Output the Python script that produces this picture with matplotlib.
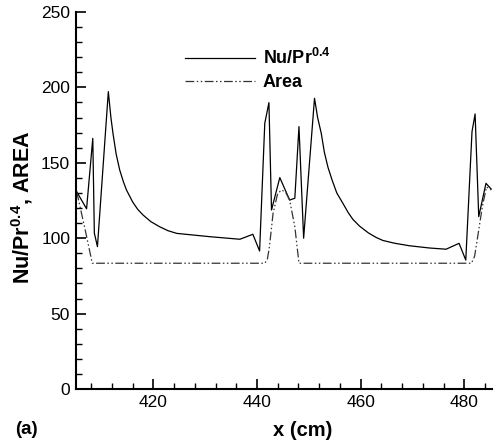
import matplotlib
matplotlib.use("Agg")
import matplotlib.pyplot as plt
from matplotlib.ticker import MultipleLocator

plt.rcParams['font.family'] = ['Liberation Sans', 'DejaVu Sans']
plt.rcParams['mathtext.fontset'] = 'custom'
plt.rcParams['mathtext.rm'] = 'Liberation Sans:bold'
plt.rcParams['mathtext.bf'] = 'Liberation Sans:bold'

# Nu/Pr^0.4 along the channel
x_nu = [405.2, 407.1, 408.3, 408.6, 409.2, 411.3, 411.8, 412.2, 412.8, 413.5,
        414.2, 414.8, 416.0, 417.0, 418.0, 419.5, 421.2, 422.8, 424.5, 427.7,
        430.9, 436.7, 439.2, 440.5, 441.5, 442.3, 442.8, 444.4, 446.3, 447.3,
        448.1, 449.0, 451.1, 451.7, 452.4, 453.0, 453.7, 454.5, 455.4, 456.6,
        457.6, 458.5, 459.8, 461.5, 463.0, 464.3, 466.5, 469.4, 473.3, 476.5,
        479.0, 480.3, 481.5, 482.1, 482.8, 484.2, 485.2]
y_nu = [130.8, 119.5, 166.2, 103.4, 94.4, 197.2, 180.0, 169.5, 156.0, 145.2,
        137.5, 132.0, 124.0, 119.0, 115.4, 111.0, 107.6, 105.0, 103.2, 102.1,
        101.0, 99.3, 102.6, 91.5, 176.2, 189.9, 118.7, 140.2, 125.3, 126.5,
        174.0, 100.0, 192.8, 180.0, 169.6, 157.0, 147.0, 138.5, 130.0, 123.0,
        117.0, 112.5, 108.0, 103.5, 100.5, 98.5, 96.7, 95.0, 93.5, 92.7,
        96.6, 85.5, 170.6, 182.4, 114.3, 136.4, 132.6]

# duct area
x_area = [405.2, 406.8, 408.2, 441.5, 442.0, 442.4, 443.1, 444.0, 444.8,
          445.6, 446.3, 447.3, 448.1, 481.4, 482.0, 482.6, 483.5, 484.3, 485.2]
y_area = [130.8, 106.0, 83.4, 83.4, 86.0, 94.4, 116.5, 129.8, 132.0,
          130.0, 125.3, 107.6, 83.4, 83.4, 88.0, 101.0, 121.0, 134.0, 132.0]

fig = plt.figure(figsize=(4.96, 4.46), dpi=100)
ax = fig.add_axes([0.1526, 0.1278, 0.8387, 0.8453])

ax.plot(x_nu, y_nu, color='black', lw=0.9, label=r'Nu/Pr$^{0.4}$')
ax.plot(x_area, y_area, color='#333333', lw=0.9,
        linestyle=(0, (7, 2, 1.2, 2, 1.2, 2)), label='Area')

ax.set_xlim(405, 485.3)
ax.set_ylim(0, 250)
ax.xaxis.set_major_locator(MultipleLocator(20))
ax.xaxis.set_minor_locator(MultipleLocator(4))
ax.yaxis.set_major_locator(MultipleLocator(50))
ax.yaxis.set_minor_locator(MultipleLocator(10))

for side in ['top', 'right']:
    ax.spines[side].set_visible(False)
for side in ['left', 'bottom']:
    ax.spines[side].set_linewidth(1.5)

ax.tick_params(which='major', direction='in', length=7, width=1.2,
               labelsize=12.5, pad=4)
ax.tick_params(which='minor', direction='in', length=4, width=1.0)

fig.text(303 / 496, 1 - 430 / 446, 'x (cm)', ha='center', va='center',
         fontsize=14.5, fontweight='bold')
fig.text(22 / 496, 1 - 207 / 446, r'Nu/Pr$^{0.4}$, AREA', ha='center',
         va='center', rotation=90, fontsize=15.5, fontweight='bold')
fig.text(26 / 496, 1 - 430 / 446, '(a)', ha='center', va='center',
         fontsize=13.5, fontweight='bold')

leg = ax.legend(loc='upper left', bbox_to_anchor=(185 / 496, 1 - 48 / 446),
                bbox_transform=fig.transFigure, frameon=False,
                handlelength=3.9, handletextpad=0.4, labelspacing=0.35,
                borderpad=0, borderaxespad=0,
                prop={'weight': 'bold', 'size': 13})

fig.savefig('out.png', dpi=100)
